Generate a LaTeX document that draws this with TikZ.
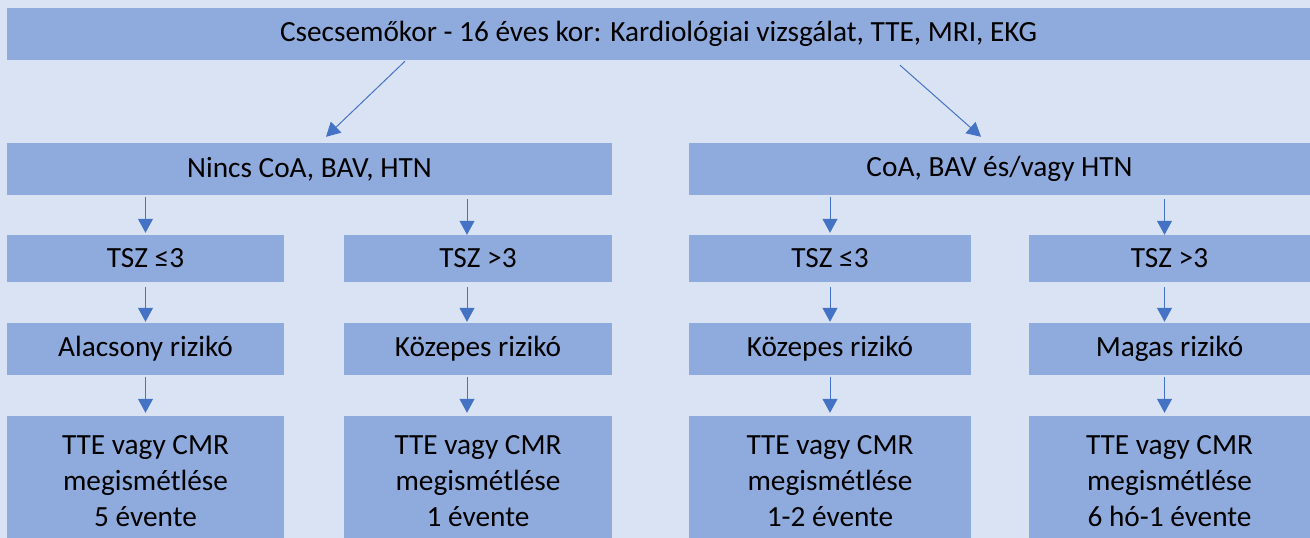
\documentclass[tikz,border=0pt]{standalone}
\usepackage{fontspec}
\setmainfont{Carlito}
\usetikzlibrary{arrows.meta,calc}
\definecolor{bg}{HTML}{DAE3F3}
\definecolor{boxc}{HTML}{8FAADC}
\definecolor{arrc}{HTML}{4472C4}
\begin{document}
\begin{tikzpicture}[x=1pt,y=-1pt,
  box/.style={fill=boxc, draw=none, inner sep=0pt, text=black,
    font=\fontsize{29.3}{36}\selectfont, align=center},
  arr/.style={draw=arrc, line width=1pt, -{Triangle[length=14pt,width=15pt]}}]
\fill[bg] (0,0) rectangle (1310,538);
\useasboundingbox (0,0) rectangle (1310,538);
\clip (0,0) rectangle (1310,538);
% level 1
\node[box, minimum width=1303pt, minimum height=52pt] (top) at (658.5,34)
  {Csecsemőkor - 16 éves kor: Kardiológiai vizsgálat, TTE, MRI, EKG};
% level 2
\node[box, minimum width=605pt, minimum height=52pt] (L) at (309.5,169) {Nincs CoA, BAV, HTN};
\node[box, minimum width=621pt, minimum height=52pt] (R) at (999.5,169) {CoA, BAV és/vagy HTN};
% level 3
\node[box, minimum width=277pt, minimum height=47pt] (c1) at (145.5,258.5) {TSZ ≤3};
\node[box, minimum width=268pt, minimum height=47pt] (c2) at (478,258.5) {TSZ >3};
\node[box, minimum width=282pt, minimum height=47pt] (c3) at (830,258.5) {TSZ ≤3};
\node[box, minimum width=281pt, minimum height=47pt] (c4) at (1169.5,258.5) {TSZ >3};
% level 4
\node[box, minimum width=277pt, minimum height=52pt] (r1) at (145.5,349) {Alacsony rizikó};
\node[box, minimum width=268pt, minimum height=52pt] (r2) at (478,349) {Közepes rizikó};
\node[box, minimum width=282pt, minimum height=52pt] (r3) at (830,349) {Közepes rizikó};
\node[box, minimum width=281pt, minimum height=52pt] (r4) at (1169.5,349) {Magas rizikó};
% level 5
\node[box, minimum width=277pt, minimum height=130pt] (t1) at (145.5,481) {TTE vagy CMR\\megismétlése\\5 évente};
\node[box, minimum width=268pt, minimum height=130pt] (t2) at (478,481) {TTE vagy CMR\\megismétlése\\1 évente};
\node[box, minimum width=282pt, minimum height=130pt] (t3) at (830,481) {TTE vagy CMR\\megismétlése\\1-2 évente};
\node[box, minimum width=281pt, minimum height=130pt] (t4) at (1169.5,481) {TTE vagy CMR\\megismétlése\\6 hó-1 évente};
% diagonal arrows
\draw[arr] ($(top.south)+(-253.5,1)$) -- ($(L.north)+(16.5,-6)$);
\draw[arr] ($(top.south)+(241.5,5)$) -- ($(R.north)+(-18.5,-6)$);
% level 2 -> 3
\draw[arr] ($(c1.north |- L.south)+(0,2)$) -- ($(c1.north)+(0,-2)$);
\draw[arr] ($(c2.north |- L.south)+(-11,4)$) -- ($(c2.north)+(-11,0)$);
\draw[arr] ($(c3.north |- R.south)+(0,2)$) -- ($(c3.north)+(0,-2)$);
\draw[arr] ($(c4.north |- R.south)+(-5,4)$) -- ($(c4.north)+(-5,0)$);
% level 3 -> 4
\draw[arr] ($(c1.south)+(0,5)$) -- ($(r1.north)+(0,-1)$);
\draw[arr] ($(c2.south)+(-11,5)$) -- ($(r2.north)+(-11,-1)$);
\draw[arr] ($(c3.south)+(0,5)$) -- ($(r3.north)+(0,-1)$);
\draw[arr] ($(c4.south)+(-5,5)$) -- ($(r4.north)+(-5,-1)$);
% level 4 -> 5
\draw[arr] ($(r1.south)+(0,2)$) -- ($(t1.north)+(0,-3)$);
\draw[arr] ($(r2.south)+(-11,2)$) -- ($(t2.north)+(-11,-3)$);
\draw[arr] ($(r3.south)+(0,2)$) -- ($(t3.north)+(0,-3)$);
\draw[arr] ($(r4.south)+(-5,2)$) -- ($(t4.north)+(-5,-3)$);
\end{tikzpicture}
\end{document}
